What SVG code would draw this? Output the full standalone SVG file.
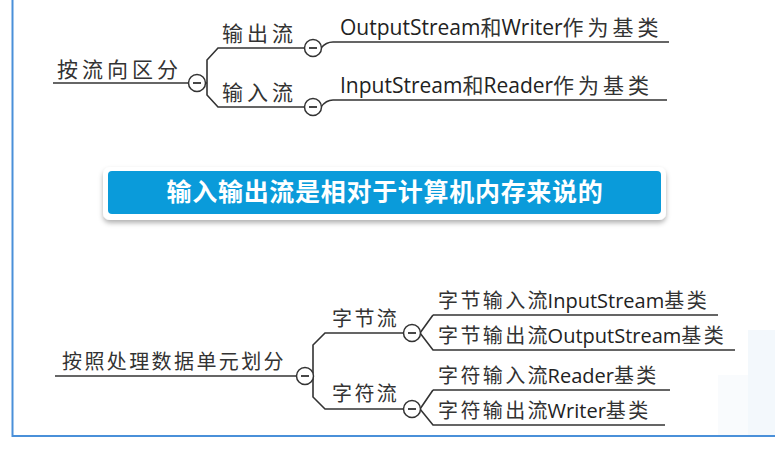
<svg xmlns="http://www.w3.org/2000/svg" width="775" height="451" viewBox="0 0 775 451">
<defs>
<style>
.ln{fill:none;stroke:#333;stroke-width:1.6}
.cc{fill:#fff;stroke:#333;stroke-width:1.5}
.mn{stroke:#333;stroke-width:1.8}
.t{font-family:"Open Sans","Noto Sans CJK SC",sans-serif;fill:#222}
.t1{font-size:21px}
.t2{font-size:20px}
.cj{font-family:"Noto Sans CJK SC",sans-serif;fill:#333}
.s1{letter-spacing:4px}
.s2{letter-spacing:2.4px}
.bn{font-family:"Noto Sans CJK SC",sans-serif;font-size:25px;font-weight:bold;fill:#fff}
</style>
<filter id="sh" x="-5%" y="-30%" width="110%" height="170%">
<feDropShadow dx="0" dy="3" stdDeviation="2.5" flood-color="#000" flood-opacity="0.3"/>
</filter>
<g id="minus">
<circle class="cc" cx="0" cy="0" r="8.5"/>
<line class="mn" x1="-4" y1="0" x2="4" y2="0"/>
</g>
</defs>
<rect width="775" height="451" fill="#fff"/>
<g id="bgdeco" fill="#eef6fc" opacity="0.7">
<rect x="748" y="330" width="27" height="106"/>
<rect x="718" y="375" width="30" height="61" opacity="0.5"/>
<circle cx="772" cy="345" r="12"/>
</g>
<g id="frame" fill="none" stroke="#4a90d9" stroke-width="2">
<path d="M12.5,0 V436 H775"/>
</g>
<g id="connectors">
<path class="ln" d="M53,83 H189"/>
<path class="ln" d="M205,83 H207 M305,48 H218 L207,60 V95 L218,107 H305"/>
<path class="ln" d="M321,48 Q326,42 333,42 H669"/>
<path class="ln" d="M321,107 Q326,100 333,100 H667"/>
<path class="ln" d="M55,376 H297"/>
<path class="ln" d="M404,333 H325 L313,345 V397 L325,409 H404"/>
<path class="ln" d="M433,315 H718 M433,315 L420,333 L433,350 H735"/>
<path class="ln" d="M433,390 H670 M433,390 L420,409 L433,425 H665"/>
</g>
<g id="n-root1"><text class="t t1" x="57" y="77"><tspan class="cj s1">按流向区</tspan><tspan class="cj">分</tspan></text><use href="#minus" x="197" y="83"/></g>
<g id="n-out"><text class="t t1" x="222" y="41"><tspan class="cj s1">输出</tspan><tspan class="cj">流</tspan></text><use href="#minus" x="313" y="48"/></g>
<g id="n-in"><text class="t t1" x="222" y="100"><tspan class="cj s1">输入</tspan><tspan class="cj">流</tspan></text><use href="#minus" x="313" y="107"/></g>
<g id="n-leaf1"><text class="t t1" x="340" y="35">OutputStream<tspan class="cj">和</tspan>Writer<tspan class="cj s1">作为基</tspan><tspan class="cj">类</tspan></text></g>
<g id="n-leaf2"><text class="t t1" x="340" y="93">InputStream<tspan class="cj">和</tspan>Reader<tspan class="cj s1">作为基</tspan><tspan class="cj">类</tspan></text></g>
<g id="banner">
<rect x="103" y="167" width="563" height="53" rx="7" fill="#fff" filter="url(#sh)"/>
<rect x="108" y="171" width="553" height="43" rx="4" fill="#0a9bda"/>
<text class="bn" x="385" y="201" text-anchor="middle" letter-spacing="0.7">输入输出流是相对于计算机内存来说的</text>
</g>
<g id="n-root2"><text class="t t2" x="62" y="369"><tspan class="cj s2">按照处理数据单元划</tspan><tspan class="cj">分</tspan></text><use href="#minus" x="305" y="376"/></g>
<g id="n-byte"><text class="t t2" x="332" y="326"><tspan class="cj s2">字节</tspan><tspan class="cj">流</tspan></text><use href="#minus" x="412" y="333"/></g>
<g id="n-char"><text class="t t2" x="332" y="401"><tspan class="cj s2">字符</tspan><tspan class="cj">流</tspan></text><use href="#minus" x="412" y="409"/></g>
<g id="n-b1"><text class="t t2" x="438" y="308"><tspan class="cj s2">字节输入</tspan><tspan class="cj">流</tspan>InputStream<tspan class="cj s2">基</tspan><tspan class="cj">类</tspan></text></g>
<g id="n-b2"><text class="t t2" x="438" y="343"><tspan class="cj s2">字节输出</tspan><tspan class="cj">流</tspan>OutputStream<tspan class="cj s2">基</tspan><tspan class="cj">类</tspan></text></g>
<g id="n-c1"><text class="t t2" x="438" y="383"><tspan class="cj s2">字符输入</tspan><tspan class="cj">流</tspan>Reader<tspan class="cj s2">基</tspan><tspan class="cj">类</tspan></text></g>
<g id="n-c2"><text class="t t2" x="438" y="418"><tspan class="cj s2">字符输出</tspan><tspan class="cj">流</tspan>Writer<tspan class="cj s2">基</tspan><tspan class="cj">类</tspan></text></g>
</svg>
